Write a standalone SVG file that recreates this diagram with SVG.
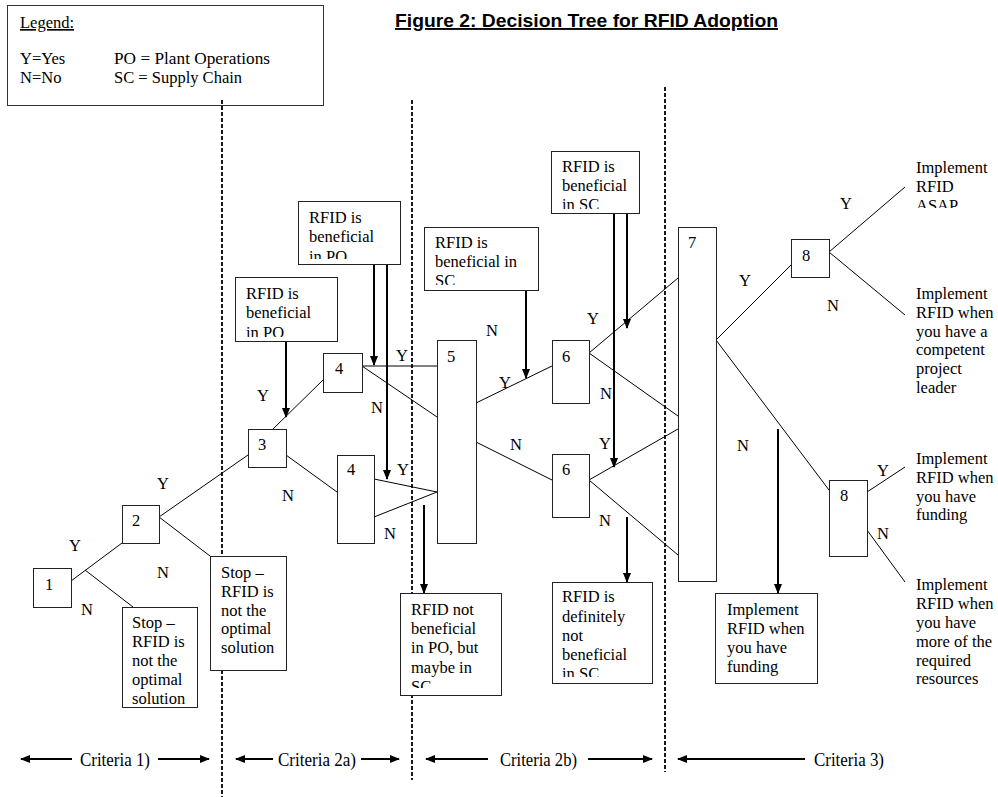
<svg xmlns="http://www.w3.org/2000/svg" width="998" height="797" viewBox="0 0 998 797">
<style>
.n{fill:#fff;stroke:#222;stroke-width:1}
.t{font-family:"Liberation Serif","Times New Roman",serif;font-size:16.5px;fill:#000}
.l{font-family:"Liberation Serif","Times New Roman",serif;font-size:16.5px;fill:#000;text-anchor:middle}
.c line{stroke:#000;stroke-width:1}
.a{stroke:#000;stroke-width:2;fill:none;marker-end:url(#ah)}
.b{stroke:#000;stroke-width:2;fill:none}
.d{stroke:#000;stroke-width:1.8;stroke-dasharray:4 2;fill:none}
.cr{font-family:"Liberation Serif","Times New Roman",serif;font-size:19px;fill:#000}
</style>
<defs>
<marker id="ah" markerUnits="userSpaceOnUse" markerWidth="10" markerHeight="8" refX="9" refY="4" orient="auto-start-reverse"><path d="M0,0 L10,4 L0,8 z" fill="#000"/></marker>
<clipPath id="k1"><rect x="235" y="277" width="102" height="60"/></clipPath>
<clipPath id="k2"><rect x="298" y="201" width="102" height="58"/></clipPath>
<clipPath id="k3"><rect x="424" y="227" width="114" height="58"/></clipPath>
<clipPath id="k4"><rect x="551" y="151" width="88" height="58"/></clipPath>
<clipPath id="k5"><rect x="400" y="593" width="101" height="95"/></clipPath>
<clipPath id="k6"><rect x="552" y="582" width="100" height="95"/></clipPath>
<clipPath id="k7"><rect x="900" y="150" width="98" height="58"/></clipPath>
</defs>
<rect width="998" height="797" fill="#fff"/>

<g id="legend">
<rect x="7.5" y="5.5" width="316" height="100" fill="#fff" stroke="#333" stroke-width="1"/>
<text class="t" x="20" y="28" text-decoration="underline">Legend:</text>
<text class="t" x="20" y="64">Y=Yes</text>
<text class="t" x="114" y="64" textLength="156" lengthAdjust="spacingAndGlyphs">PO = Plant Operations</text>
<text class="t" x="20" y="83">N=No</text>
<text class="t" x="114" y="83">SC = Supply Chain</text>
</g>
<text id="title" x="395" y="27" font-family="'Liberation Sans',Arial,sans-serif" font-size="19" font-weight="bold" text-decoration="underline" textLength="383" lengthAdjust="spacingAndGlyphs">Figure 2: Decision Tree for RFID Adoption</text>

<g id="dividers">
<line class="d" x1="222" y1="100" x2="222" y2="797"/>
<line class="d" x1="412" y1="100" x2="412" y2="780"/>
<line class="d" x1="665" y1="87" x2="665" y2="772"/>
</g>

<g id="connectors" class="c">
<line x1="71" y1="581" x2="122" y2="543"/>
<line x1="85" y1="570" x2="133" y2="607"/>
<line x1="159" y1="517" x2="248" y2="455"/>
<line x1="159" y1="517" x2="210" y2="556"/>
<line x1="273" y1="429" x2="323" y2="380"/>
<line x1="286" y1="455" x2="337" y2="492"/>
<line x1="362" y1="366" x2="437" y2="366"/>
<line x1="362" y1="366" x2="437" y2="417"/>
<line x1="374" y1="479" x2="437" y2="492"/>
<line x1="374" y1="517" x2="437" y2="492"/>
<line x1="476" y1="403" x2="552" y2="366"/>
<line x1="476" y1="442" x2="552" y2="480"/>
<line x1="589" y1="353" x2="678" y2="278"/>
<line x1="589" y1="353" x2="678" y2="416"/>
<line x1="589" y1="480" x2="678" y2="429"/>
<line x1="589" y1="480" x2="678" y2="555"/>
<line x1="716" y1="340" x2="791" y2="265"/>
<line x1="716" y1="340" x2="829" y2="490"/>
<line x1="829" y1="252" x2="905" y2="187"/>
<line x1="829" y1="252" x2="905" y2="315"/>
<line x1="867" y1="492" x2="905" y2="467"/>
<line x1="867" y1="530" x2="905" y2="582"/>
<path class="a" d="M286,341 V417"/>
<path class="a" d="M374,264 V365"/>
<path class="a" d="M387,264 V479"/>
<path class="a" d="M526,290 V378"/>
<path class="a" d="M627,213 V328"/>
<path class="a" d="M614,213 V467"/>
<path class="a" d="M627,517 V582"/>
<path class="a" d="M424,505 V593"/>
<path class="a" d="M778,429 V593"/>
</g>

<g id="labels">
<text class="l" x="75" y="551">Y</text>
<text class="l" x="87" y="615">N</text>
<text class="l" x="163" y="489">Y</text>
<text class="l" x="163" y="578">N</text>
<text class="l" x="263" y="401">Y</text>
<text class="l" x="288" y="501">N</text>
<text class="l" x="402" y="361">Y</text>
<text class="l" x="377" y="413">N</text>
<text class="l" x="403" y="475">Y</text>
<text class="l" x="390" y="539">N</text>
<text class="l" x="492" y="336">N</text>
<text class="l" x="505" y="388">Y</text>
<text class="l" x="516" y="450">N</text>
<text class="l" x="593" y="324">Y</text>
<text class="l" x="606" y="399">N</text>
<text class="l" x="605" y="449">Y</text>
<text class="l" x="605" y="526">N</text>
<text class="l" x="745" y="286">Y</text>
<text class="l" x="743" y="451">N</text>
<text class="l" x="846" y="209">Y</text>
<text class="l" x="833" y="311">N</text>
<text class="l" x="883" y="476">Y</text>
<text class="l" x="883" y="539">N</text>
</g>

<g id="node1"><rect class="n" x="33.5" y="568.5" width="38" height="39"/><text class="t" x="45" y="590">1</text></g>
<g id="node2"><rect class="n" x="122.5" y="505.5" width="37" height="38"/><text class="t" x="132" y="526">2</text></g>
<g id="node3"><rect class="n" x="248.5" y="429.5" width="38" height="38"/><text class="t" x="258" y="450">3</text></g>
<g id="node4a"><rect class="n" x="323.5" y="353.5" width="39" height="39"/><text class="t" x="335" y="374">4</text></g>
<g id="node4b"><rect class="n" x="337.5" y="455.5" width="37" height="88"/><text class="t" x="347" y="475">4</text></g>
<g id="node5"><rect class="n" x="437.5" y="340.5" width="39" height="203"/><text class="t" x="447" y="362">5</text></g>
<g id="node6a"><rect class="n" x="552.5" y="340.5" width="37" height="63"/><text class="t" x="562" y="362">6</text></g>
<g id="node6b"><rect class="n" x="552.5" y="454.5" width="37" height="63"/><text class="t" x="562" y="475">6</text></g>
<g id="node7"><rect class="n" x="678.5" y="227.5" width="38" height="354"/><text class="t" x="688" y="248">7</text></g>
<g id="node8a"><rect class="n" x="791.5" y="239.5" width="38" height="38"/><text class="t" x="802" y="261">8</text></g>
<g id="node8b"><rect class="n" x="829.5" y="480.5" width="38" height="76"/><text class="t" x="840" y="501">8</text></g>

<g id="stop1"><rect class="n" x="122.5" y="607.5" width="75" height="100"/>
<text class="t"><tspan x="132" y="628">Stop –</tspan><tspan x="132" y="647">RFID is</tspan><tspan x="132" y="666">not the</tspan><tspan x="132" y="685">optimal</tspan><tspan x="132" y="704">solution</tspan></text></g>
<g id="stop2"><rect class="n" x="210.5" y="556.5" width="76" height="114"/>
<text class="t"><tspan x="221" y="578">Stop –</tspan><tspan x="221" y="597">RFID is</tspan><tspan x="221" y="616">not the</tspan><tspan x="221" y="634">optimal</tspan><tspan x="221" y="653">solution</tspan></text></g>
<g id="po1"><rect class="n" x="235.5" y="277.5" width="102" height="64"/>
<text class="t" clip-path="url(#k1)"><tspan x="246" y="299">RFID is</tspan><tspan x="246" y="318">beneficial</tspan><tspan x="246" y="338">in PO</tspan></text></g>
<g id="po2"><rect class="n" x="298.5" y="201.5" width="102" height="63"/>
<text class="t" clip-path="url(#k2)"><tspan x="309" y="223">RFID is</tspan><tspan x="309" y="242">beneficial</tspan><tspan x="309" y="262">in PO</tspan></text></g>
<g id="sc1"><rect class="n" x="424.5" y="227.5" width="114" height="63"/>
<text class="t" clip-path="url(#k3)"><tspan x="435" y="248">RFID is</tspan><tspan x="435" y="267">beneficial in</tspan><tspan x="435" y="286">SC</tspan></text></g>
<g id="sc2"><rect class="n" x="551.5" y="151.5" width="88" height="62"/>
<text class="t" clip-path="url(#k4)"><tspan x="562" y="172">RFID is</tspan><tspan x="562" y="191">beneficial</tspan><tspan x="562" y="210">in SC</tspan></text></g>
<g id="notpo"><rect class="n" x="400.5" y="593.5" width="101" height="102"/>
<text class="t" clip-path="url(#k5)"><tspan x="411" y="615">RFID not</tspan><tspan x="411" y="634">beneficial</tspan><tspan x="411" y="653">in PO, but</tspan><tspan x="411" y="673">maybe in</tspan><tspan x="411" y="692">SC</tspan></text></g>
<g id="notsc"><rect class="n" x="552.5" y="582.5" width="100" height="101"/>
<text class="t" clip-path="url(#k6)"><tspan x="562" y="602">RFID is</tspan><tspan x="562" y="622">definitely</tspan><tspan x="562" y="641">not</tspan><tspan x="562" y="660">beneficial</tspan><tspan x="562" y="679">in SC</tspan></text></g>
<g id="fund1"><rect class="n" x="715.5" y="593.5" width="102" height="90"/>
<text class="t"><tspan x="727" y="615">Implement</tspan><tspan x="727" y="634">RFID when</tspan><tspan x="727" y="653">you have</tspan><tspan x="727" y="672">funding</tspan></text></g>

<g id="out1"><text class="t" clip-path="url(#k7)"><tspan x="916" y="173">Implement</tspan><tspan x="916" y="192">RFID</tspan><tspan x="916" y="211">ASAP</tspan></text></g>
<g id="out2"><text class="t"><tspan x="916" y="299">Implement</tspan><tspan x="916" y="318">RFID when</tspan><tspan x="916" y="337">you have a</tspan><tspan x="916" y="355">competent</tspan><tspan x="916" y="374">project</tspan><tspan x="916" y="393">leader</tspan></text></g>
<g id="out3"><text class="t"><tspan x="916" y="464">Implement</tspan><tspan x="916" y="483">RFID when</tspan><tspan x="916" y="502">you have</tspan><tspan x="916" y="520">funding</tspan></text></g>
<g id="out4"><text class="t"><tspan x="916" y="590">Implement</tspan><tspan x="916" y="609">RFID when</tspan><tspan x="916" y="628">you have</tspan><tspan x="916" y="647">more of the</tspan><tspan x="916" y="666">required</tspan><tspan x="916" y="684">resources</tspan></text></g>

<g id="criteria">
<path class="b" d="M21,759 H72" marker-start="url(#ah)"/>
<path class="b" d="M158,759 H209" marker-end="url(#ah)"/>
<path class="b" d="M236,759 H273" marker-start="url(#ah)"/>
<path class="b" d="M361,759 H399" marker-end="url(#ah)"/>
<path class="b" d="M426,759 H488" marker-start="url(#ah)"/>
<path class="b" d="M588,759 H652" marker-end="url(#ah)"/>
<path class="b" d="M678,759 H805" marker-start="url(#ah)"/>
<text class="cr" x="80" y="766" textLength="70" lengthAdjust="spacingAndGlyphs">Criteria 1)</text>
<text class="cr" x="278" y="766" textLength="78" lengthAdjust="spacingAndGlyphs">Criteria 2a)</text>
<text class="cr" x="500" y="766" textLength="77" lengthAdjust="spacingAndGlyphs">Criteria 2b)</text>
<text class="cr" x="814" y="766" textLength="70" lengthAdjust="spacingAndGlyphs">Criteria 3)</text>
</g>
</svg>
